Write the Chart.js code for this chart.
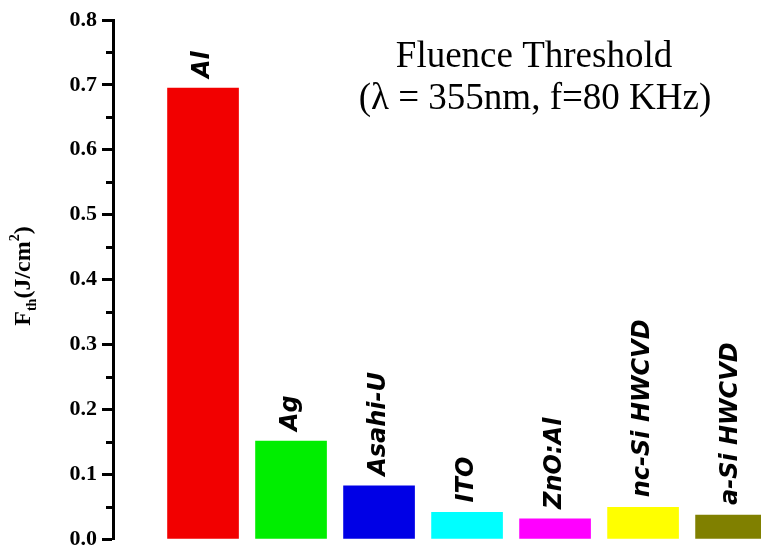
<!DOCTYPE html>
<html>
<head>
<meta charset="utf-8">
<script src="https://cdn.jsdelivr.net/npm/chart.js@4"></script>
<style>
  body { margin: 0; background: #fff; }
  #wrap { width: 761px; height: 551px; position: relative; }
</style>
</head>
<body>
<div id="wrap"><canvas id="fluenceChart"></canvas></div>
<script>
const materials = ['Al', 'Ag', 'Asahi-U', 'ITO', 'ZnO:Al', 'nc-Si HWCVD', 'a-Si HWCVD'];
const positions = [1, 2, 3, 4, 5, 6, 7];
const fluence = [0.695, 0.151, 0.082, 0.041, 0.031, 0.049, 0.037];
const barColors = ['#f20000', '#00ee00', '#0000e6', '#00ffff', '#ff00ff', '#ffff00', '#808000'];
const yTicks = [0, 0.1, 0.2, 0.3, 0.4, 0.5, 0.6, 0.7, 0.8];
const titleLines = ['Fluence Threshold', '(\u03bb = 355nm, f=80 KHz)'];

// rotated material names above each bar
const barLabels = {
    id: 'barLabels',
    afterDatasetsDraw(chart) {
        const ctx = chart.ctx;
        const bars = chart.getDatasetMeta(0).data;
        ctx.save();
        ctx.font = 'italic bold 24px "DejaVu Sans"';
        ctx.fillStyle = '#000';
        ctx.textAlign = 'left';
        ctx.textBaseline = 'middle';
        bars.forEach(function (bar, i) {
            ctx.save();
            ctx.translate(bar.x, bar.y - 10);
            ctx.rotate(-Math.PI / 2);
            ctx.fillText(materials[i], 0, 0);
            ctx.restore();
        });
        ctx.restore();
    }
};

// minor ticks, axis title and the text block
const extras = {
    id: 'extras',
    afterDraw(chart) {
        const ctx = chart.ctx;
        const y = chart.scales.y;
        const left = chart.chartArea.left;
        ctx.save();
        ctx.strokeStyle = '#000';
        ctx.lineWidth = 3;
        for (let i = 0; i < yTicks.length - 1; i++) {
            const py = Math.round(y.getPixelForValue((yTicks[i] + yTicks[i + 1]) / 2)) + 0.5;
            ctx.beginPath();
            ctx.moveTo(left - 7, py);
            ctx.lineTo(left, py);
            ctx.stroke();
        }

        // y title: F_th(J/cm^2)
        const parts = [
            { t: 'F', size: 24, dy: 0 },
            { t: 'th', size: 14, dy: 6 },
            { t: '(J/cm', size: 24, dy: 0 },
            { t: '2', size: 14, dy: -11 },
            { t: ')', size: 24, dy: 0 }
        ];
        let total = 0;
        parts.forEach(function (p) {
            ctx.font = 'bold ' + p.size + 'px "Liberation Serif"';
            p.w = ctx.measureText(p.t).width;
            total += p.w;
        });
        ctx.translate(30, 276);
        ctx.rotate(-Math.PI / 2);
        ctx.fillStyle = '#000';
        ctx.textBaseline = 'alphabetic';
        ctx.textAlign = 'left';
        let cx = -total / 2;
        parts.forEach(function (p) {
            ctx.font = 'bold ' + p.size + 'px "Liberation Serif"';
            ctx.fillText(p.t, cx, p.dy);
            cx += p.w;
        });
        ctx.restore();

        ctx.save();
        ctx.fillStyle = '#000';
        ctx.font = '37px "Liberation Serif"';
        ctx.textAlign = 'center';
        ctx.textBaseline = 'alphabetic';
        ctx.fillText(titleLines[0], 534, 67);
        ctx.fillText(titleLines[1], 535, 109);
        ctx.restore();
    }
};

new Chart(document.getElementById('fluenceChart'), {
    type: 'bar',
    data: {
        datasets: [{
            data: positions.map((p, i) => ({ x: p, y: fluence[i] })),
            backgroundColor: barColors,
            borderWidth: 0,
            barThickness: 71
        }]
    },
    options: {
        responsive: true,
        maintainAspectRatio: false,
        animation: false,
        layout: { padding: { top: 20, bottom: 12, left: 0, right: 0 } },
        plugins: { legend: { display: false }, tooltip: { enabled: false } },
        scales: {
            x: {
                type: 'linear',
                display: false,
                offset: false,
                min: -0.023,
                max: 7.34
            },
            y: {
                min: 0,
                max: 0.8,
                afterBuildTicks: s => { s.ticks = yTicks.map(v => ({ value: v })); },
                afterFit: s => {
                    s.width = 113;
                    s.paddingTop = 0;
                    s.paddingBottom = 0;
                },
                ticks: {
                    color: '#000',
                    padding: 5,
                    font: { family: 'Liberation Serif', weight: 'bold', size: 22 },
                    callback: v => v.toFixed(1)
                },
                grid: {
                    drawOnChartArea: false,
                    tickLength: 11,
                    tickWidth: 3,
                    tickColor: '#000'
                },
                border: { color: '#000', width: 3 }
            }
        }
    },
    plugins: [barLabels, extras]
});
</script>
</body>
</html>
